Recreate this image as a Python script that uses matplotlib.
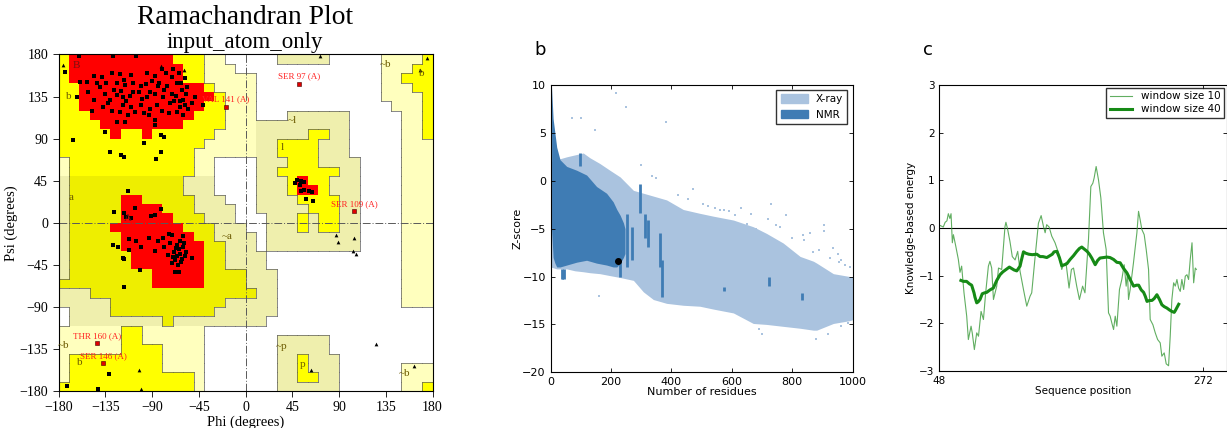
import numpy as np
import matplotlib
matplotlib.use("Agg")
import matplotlib.pyplot as plt
from matplotlib.colors import ListedColormap
from matplotlib.patches import Patch

# ------------------ panel a : Ramachandran regions (10 deg cells) ------------------
# rows from psi 180 (top) to psi -180, columns phi -180 .. 180
# R core, Y allowed, D allowed (alpha side), P generous (beta), K generous (alpha), . disallowed
region_left = [
    "YRRRRRRRRRRYYYPP..", "YRRRRRRRRRRRYYPPP.", "YRRRRRRRRRRRYYPPPP",
    "YYRRRRRRRRRRRRYPPP", "YYRRRRRRRRRRRRRYPP", "YYRRRRRRRRRRRRYYPP",
    "YYYRRRRRRRRRRYYYPP", "YYYYRRRRRRRRYYYYPP", "YYYYYRYYRYYYYYYPPP",
    "YYYYYYYYYYYYYYPPPP", "YYYYYYYYYYYYYPPPPP", "PYYYYYYYYYYYYPP...",
    "PYYYYYYYYYYYYPP...", "KDDDDDDDDDDDKKK...", "KDDDDDDDDDDDKKK...",
    "KDDDDDRRDDDDDKKK..", "KDDDDDRRRRDDDKKKK.", "KDDDDDRRRRRDDDKKK.",
    "KDDDDRRRRRRRDDDKKK", "KDDDDDRRRRRRRDDKKK", "KDDDDDRRRRRRRRDDKK",
    "KDDDDDDRRRRRRRDDKK", "KDDDDDDRRRRRRRDDKK", "KDDDDDDDDRRRRRDDDD",
    "DDDDDDDDDRRRRRDDDD", "KKKDDDDDDDDDDDDDDD", "KKKKKDDDDDDDDDDDKK",
    ".KKKKDDDDDDDDDDKKK", ".KKKKKKKKKDKKKKKKK", "PPPPPPYYPPPPPP....",
    "PPPPPPYYPPPPPP....", "PPPPPPYYYYPPPP....", "PYYYYYYYYYPPPP....",
    "PYYYYYYYYYPPPP....", "PYYYYYYYYYYYYP....", "YYYYYYYYYYYYYP....",
]
region_right = [
    "...KKKKK.....PPPPY", ".............PPPYY", "P............PPYYY",
    "P............PPPYY", "P............PPPPY", "P.............PPPY",
    "P...KKKKKK.....PPY", "PKKKKKKKKK.....PPY", "PKKKKKYYKK.....PPY",
    "PKKYYYYKKK.....PPP", "PKKYYYYKKK.....PPP", ".KKKYYYKKKK....PPP",
    ".KKYYYYYYKK....PPP", ".KKKYRYYKKK....PPP", ".KKKYRRYKKK....PPP",
    ".KKKKYYYYKK....PPP", ".KKKKKYYYKK....PPP", "..KKKYKYYKK....PPP",
    "..KKKYKYYKK....PPP", "K.KKKKKKKKK....PPP", "K.KKKKKKKKK....PPP",
    "KK.............PPP", "KK.............PPP", "KKK............PPP",
    "KKK............PPP", "DKK............PPP", "KKK............PPP",
    "KKK...............", "KK................", "..................",
    "...KKKKK..........", "...KKKKK..........", "...KKYKKK.........",
    "...KKYKKK......PPP", "...KKYYKK......PPP", "...KKKKKK......PPY",
]
region_codes = ".RYDPK"
region_colors = ["#ffffff", "#ff0000", "#ffff00", "#eeee00", "#ffffbe", "#efefad"]

res_phi = [-160, -128, -105, -174, -162, -146, -138, -129, -121, -159, -153, -143, -134, -124,
           -116, -108, -101, -87, -77, -71, -66, -61, -57, -60, -63, -55, -49, -41, -152, -146,
           -137, -129, -121, -113, -130, -124, -118, -111, -103, -95, -87, -79, -71, -85, -92,
           -101, -110, -118, -124, -116, -98, -87, -87, -74, -69, -63, -58, -76, -84, -92,
           -140, -135, -127, -120, -115, -108, -100, -96, -90, -83, -78, -73, -67, -62, -58,
           -64, -70, -80, -95, -110, -117, -132, -106, -93, -80, -66, -60, -52, -56, -148,
           -166, -135, -98, -130, -120, -117, -86, -81, -81, -78, -113,
           -127, -106, -117, -115, -110, -91, -87, -81, -128, -123, -118, -112, -112, -105,
           -101, -93, -87, -84, -79, -74, -71, -78, -73, -66, -63, -60, -69, -66, -63, -60,
           -58, -61, -68, -71, -52, -57, -102, -68, -64, -117, -117, -65, -62, -70, -75, -59,
           -64, -67, 50, 53, 56, 53, 56, 61, 64, 58, 65, 52, 48, -172, -142, -131]
res_psi = [178, 178, 178, 161, 135, 157, 156, 160, 159, 151, 151, 150, 150, 149,
           147, 149, 146, 157, 160, 156, 149, 142, 138, 131, 124, 122, 135, 126, 140, 131,
           124, 120, 118, 115, 131, 137, 135, 136, 140, 135, 138, 135, 138, 126, 122,
           126, 124, 126, 108, 108, 117, 110, 105, 117, 130, 130, 126, 146, 146, 140,
           145, 138, 142, 141, 130, 140, 132, 148, 152, 150, 142, 128, 136, 150, 155,
           160, 165, 164, 160, 158, 153, 128, 118, 115, 120, 118, 115, 128, 145, 120,
           89, 97, 85, 76, 73, 70, 68, 76, 94, 92, 34,
           12, 16, 10, 6, 5, 7, 8, 15, -24, -26, -38, -17, -29, -20,
           -26, -16, -30, -20, -16, -12, -13, -26, -22, -24, -19, -14, -31, -36, -33, -26,
           -36, -39, -40, -43, -38, -31, -51, -53, -53, -69, -39, -45, -42, -37, -35, -22,
           -28, -27, 46, 45, 44, 34, 35, 34, 33, 25, 23, 40, 43, -175, -178, -162]

gly_phi = [-176, -81, -59, 72, 168, 175, -103, -101, 87, 89, 104, 103, 106, 126, 162, 63]
gly_psi = [169, 168, 163, 178, 163, 176, -158, -178, -13, -21, -16, -30, -33, -130, -153, -158]

out_phi = [-19, 51.5, 104.4, -142.6, -136.9]
out_psi = [124, 148.4, 12.2, -129, -150.4]
out_names = ["VAL 141 (A)", "SER 97 (A)", "SER 109 (A)", "THR 160 (A)", "SER 146 (A)"]

region_labels = ["B", "b", "a", "A", "~a", "l", "~l", "~b", "b", "~b", "b", "~p", "p", "~b"]
region_lab_phi = [-163, -170, -168, -113, -18, 35, 45, 135, 170, -175, -160, 35, 55, 153]
region_lab_psi = [168, 135, 27, 5, -15, 80, 109, 169, 160, -131, -150, -132, -152, -161]

# ------------------ panel b : Z-score vs number of residues ------------------
xray_x = [0, 20, 53, 80, 108, 130, 163, 196, 230, 274, 307, 340, 384, 439, 494, 539, 605,
          671, 715, 770, 826, 870, 881, 936, 991, 1000]
xray_hi = [2.0, 2.2, 2.5, 2.7, 2.9, 2.4, 1.8, 1.1, 0.4, -1.0, -1.3, -1.6, -2.0, -3.0, -3.4,
           -3.7, -4.1, -4.8, -5.5, -6.5, -7.9, -8.4, -8.6, -9.7, -10.0, -10.0]
xray_lo = [-9.0, -9.2, -9.2, -9.4, -9.5, -9.6, -9.7, -9.9, -10.1, -10.4, -11.6, -12.4, -12.8,
           -13.0, -13.1, -13.4, -13.8, -14.9, -15.0, -15.2, -15.4, -15.6, -15.6, -14.9,
           -14.6, -14.5]
nmr_x = [3, 8, 14, 20, 31, 53, 86, 119, 152, 185, 207, 219, 230, 241, 246]
nmr_hi = [9.8, 6.5, 5.0, 3.5, 2.2, 1.5, 1.1, 0.6, -0.6, -1.3, -2.2, -3.0, -3.6, -4.4, -5.0]
nmr_lo = [-5.0, -8.0, -8.6, -9.0, -9.0, -8.8, -8.5, -8.3, -8.6, -8.8, -9.0, -9.0, -8.6, -8.0, -7.6]
streak_x = [14, 96, 230, 252, 268, 296, 313, 323, 362, 368, 574, 724, 831, 36, 44]
streak_lo = [-4.8, 1.5, -10.0, -9.0, -8.3, -3.4, -6.0, -6.9, -9.0, -12.1, -11.5, -11.0, -12.4, -10.3, -10.3]
streak_hi = [-3.7, 2.9, -6.9, -3.5, -4.8, -0.3, -3.5, -4.1, -5.5, -8.3, -11.1, -10.0, -11.7, -9.2, -9.2]
xray_out_x = [216, 249, 383, 69, 102, 147, 335, 300, 350, 470, 560, 630, 730, 680, 780, 835,
              860, 905, 905, 935, 950, 990, 760, 720, 650, 400, 280, 160, 40, 700, 690, 880,
              920, 960, 990, 985, 590, 610, 840, 870, 520, 545, 665, 745, 800, 890, 960, 975,
              420, 455, 505, 575, 925, 955]
xray_out_z = [9.2, 7.7, 6.1, 6.6, 6.6, 5.3, 0.5, 1.6, 0.3, -0.9, -3.0, -2.8, -2.4, -5.0, -3.6,
              -5.7, -5.5, -4.6, -5.2, -7.0, -7.6, -9.0, -4.8, -4.0, -4.5, -10.8, -10.3, -12.0,
              -10.3, -16.0, -15.5, -16.5, -16.0, -15.2, -13.5, -14.8, -3.2, -3.6, -6.2, -7.4,
              -2.6, -2.8, -3.5, -4.6, -6.0, -7.2, -8.3, -8.8, -1.5, -1.9, -2.4, -3.1, -8.1, -8.5]
query_x = [224]
query_z = [-8.35]

# ------------------ panel c : knowledge-based energy ------------------
seq10 = [49, 51.4, 53, 54.5, 55.7, 57, 58, 59.1, 60, 62, 64.2, 65.6, 67, 69, 71.3, 72.7, 75, 76,
         77.8, 79.8, 81.3, 83.5, 85.5, 87.4, 89.7, 91, 92.5, 94, 96.8, 98.3, 101, 103.8, 104.6,
         106, 108, 110, 112.4, 114.6, 116.6, 119.5, 122.3, 125.1, 126.5, 129.4, 132.2, 134.5,
         136.5, 137.9, 139.2, 141.3, 143.5, 146.3, 149.2, 152, 153.4, 155.6, 158.2, 160.2, 162,
         164.7, 167, 169.7, 171.7, 174.7, 176.7, 178.4, 179.5, 181.2, 183.2, 185.2, 187.4,
         189.7, 191.7, 193.1, 194.5, 196, 197.4, 198.8, 201, 203, 205, 206.7, 207.8, 208.7,
         210.1, 212.9, 215.8, 217.2, 218.6, 220, 222, 223.7, 225.7, 227.1, 229.4, 231.4, 233.4,
         235.6, 237, 239, 240.7, 242.7, 244.1, 245.5, 247, 248.4, 249.8, 251.2, 252.6, 254,
         255.5, 256.9, 258.3, 259.7, 261.1, 262.6, 264, 265.4, 266.3]
energy10 = [0.05, 0.02, 0.12, 0.15, 0.3, 0.2, 0.3, -0.31, -0.14, -0.38, -0.66, -0.93, -0.8,
            -1.36, -1.85, -2.34, -2.06, -2.2, -2.55, -2.2, -2.27, -1.75, -1.92, -1.36, -0.8, -0.7,
            -0.84, -1.5, -1.22, -0.84, -0.87, 0.03, 0.12, -0.02, -0.28, -0.6, -0.67, -0.49, -0.91,
            -1.29, -1.64, -1.43, -1.36, -0.6, 0.1, 0.26, 0.03, -0.1, 0.07, 0.02, -0.17, -0.31,
            -0.52, -0.87, -0.77, -0.73, -1.26, -0.87, -0.84, -1.22, -1.5, -1.22, -1.36, -0.24,
            0.87, 0.94, 1.05, 1.29, 1.01, 0.63, -0.1, -0.45, -1.78, -1.85, -1.99, -2.13, -1.85,
            -2.06, -1.29, -1.08, -0.77, -1.22, -0.94, -1.5, -1.29, -0.73, -0.1, 0.35, 0.17, -0.03,
            -0.14, -0.45, -0.87, -1.92, -2.03, -2.2, -2.34, -2.41, -2.69, -2.62, -2.85, -2.89,
            -2.27, -1.5, -1.15, -1.22, -1.08, -1.26, -1.33, -1.08, -1.29, -1.01, -0.98, -1.08,
            -0.66, -0.31, -1.15, -0.84, -0.87]
seq40 = [66.4, 68.5, 71.2, 73.5, 75.5, 77.5, 78.3, 79.8, 81, 82.6, 84.5, 86.5, 88.3, 91, 93.9,
         96.8, 99.6, 102, 105.3, 107.5, 109.5, 111.5, 113.8, 116.6, 117.5, 119.5, 121.5, 124,
         127, 130.8, 133.6, 136, 139.3, 142, 144, 145.5, 147.9, 150, 152, 154.5, 156.3, 159.1,
         162, 164.8, 167, 169, 171.5, 173.5, 175.5, 177.5, 180.4, 182.5, 184.5, 187.5, 190.3,
         193, 196, 198.8, 201.6, 204.5, 207.3, 209.5, 211.5, 213, 215.5, 217.3, 219.5, 221.5,
         222.9, 224.4, 226.5, 228.6, 230.5, 232.8, 235, 237, 239, 241.3, 243.5, 245.5, 247.5,
         248.5, 250, 251.3]
energy40 = [-1.1, -1.12, -1.12, -1.17, -1.2, -1.36, -1.45, -1.57, -1.55, -1.5, -1.38, -1.36,
            -1.35, -1.3, -1.26, -1.1, -0.98, -0.92, -0.86, -0.82, -0.85, -0.88, -0.9, -0.8, -0.7,
            -0.5, -0.53, -0.55, -0.56, -0.55, -0.6, -0.6, -0.62, -0.58, -0.55, -0.5, -0.49,
            -0.62, -0.79, -0.77, -0.75, -0.66, -0.58, -0.49, -0.43, -0.4, -0.45, -0.49, -0.55,
            -0.63, -0.77, -0.68, -0.63, -0.62, -0.61, -0.62, -0.66, -0.72, -0.73, -0.85, -0.94,
            -1.05, -1.15, -1.22, -1.2, -1.2, -1.3, -1.35, -1.43, -1.54, -1.52, -1.52, -1.48,
            -1.4, -1.5, -1.61, -1.65, -1.68, -1.72, -1.75, -1.77, -1.73, -1.66, -1.6]

# =====================================================================
fig = plt.figure(figsize=(12.27, 4.28), dpi=100)
serif = "Liberation Serif"

# ---------- a ----------
ax = fig.add_axes([0.0477, 0.0864, 0.3048, 0.7863])
grid = np.array([[region_codes.index(c) for c in (l + r)]
                 for l, r in zip(region_left, region_right)])
phi_e = np.arange(-180, 181, 10)
psi_e = np.arange(180, -181, -10)
ax.pcolormesh(phi_e, psi_e, grid, cmap=ListedColormap(region_colors),
              vmin=-0.5, vmax=5.5, shading="flat")

# thin boundary lines between generous / allowed / disallowed zones
group = {0: 0, 1: 1, 2: 1, 3: 1, 4: 2, 5: 2}
for i in range(36):
    for j in range(36):
        g = group[grid[i, j]]
        if j < 35 and g != group[grid[i, j + 1]]:
            ax.plot([phi_e[j + 1]] * 2, [psi_e[i], psi_e[i + 1]], color="0.35", lw=0.5)
        if i < 35 and g != group[grid[i + 1, j]]:
            ax.plot([phi_e[j], phi_e[j + 1]], [psi_e[i + 1]] * 2, color="0.35", lw=0.5)

ax.axhline(0, color="0.35", lw=0.7, ls=(0, (8, 2, 1, 2)))
ax.axvline(0, color="0.35", lw=0.7, ls=(0, (8, 2, 1, 2)))

ax.plot(res_phi, res_psi, "s", color="black", ms=2.9, mew=0)
ax.plot(gly_phi, gly_psi, "^", color="black", ms=2.7, mew=0)
ax.plot(out_phi, out_psi, "s", color="#e00000", mec="#400000", ms=2.9, mew=0.4)
for p, s, n in zip(out_phi, out_psi, out_names):
    ax.annotate(n, (p, s), xytext=(0, 2.5), textcoords="offset points", ha="center",
                va="bottom", color="#ff2020", fontsize=6.5, family=serif)
for t, p, s in zip(region_labels, region_lab_phi, region_lab_psi):
    ax.text(p, s, t, ha="center", va="center", fontsize=8, family=serif,
            color="#6b5a00" if t not in ("A", "B") else "#7a1010")

ax.set_xlim(-180, 180)
ax.set_ylim(-180, 180)
ticks = np.arange(-180, 181, 45)
ax.set_xticks(ticks)
ax.set_yticks(ticks)
ax.tick_params(labelsize=10, length=4, width=0.6, direction="out")
for lab in ax.get_xticklabels() + ax.get_yticklabels():
    lab.set_family(serif)
ax.set_xlabel("Phi (degrees)", family=serif, fontsize=10.5, labelpad=1)
ax.set_ylabel("Psi (degrees)", family=serif, fontsize=10.5, labelpad=1)
for sp in ax.spines.values():
    sp.set_linewidth(0.8)
fig.text(0.1997, 0.958, "Ramachandran Plot", ha="center", va="center", family=serif,
         fontsize=19.8)
fig.text(0.1997, 0.900, "input_atom_only", ha="center", va="center", family=serif,
         fontsize=16.5)

# ---------- b ----------
xray_col = "#aac3df"
nmr_col = "#3f7cb4"
bx = fig.add_axes([0.4488, 0.1301, 0.2461, 0.6713])
bx.fill_between(xray_x, xray_lo, xray_hi, color=xray_col, lw=0)
bx.plot(xray_out_x, xray_out_z, "s", color=xray_col, ms=1.8, mew=0)
bx.fill_between(nmr_x, nmr_lo, nmr_hi, color=nmr_col, lw=0)
bx.vlines(streak_x, streak_lo, streak_hi, color=nmr_col, lw=2)
bx.plot(query_x, query_z, "o", color="black", ms=4)
bx.set_xlim(0, 1000)
bx.set_ylim(-20, 10)
bx.set_xticks(range(0, 1001, 200))
bx.set_yticks(range(-20, 11, 5))
bx.tick_params(direction="in", top=True, right=True, labelsize=8, length=3, width=0.6)
bx.set_xlabel("Number of residues", fontsize=8, labelpad=0)
bx.set_ylabel("Z-score", fontsize=8, labelpad=0)
bx.legend(handles=[Patch(color=xray_col, label="X-ray"), Patch(color=nmr_col, label="NMR")],
          loc="upper right", fontsize=7.5, frameon=True, fancybox=False, edgecolor="black",
          borderaxespad=0.5, handlelength=2.6, handleheight=0.9, borderpad=0.4)
fig.text(0.44, 0.883, "b", fontsize=13, ha="center", va="center")

# ---------- c ----------
cx = fig.add_axes([0.7655, 0.1332, 0.2342, 0.6682])
cx.axhline(0, color="black", lw=0.8)
cx.plot(seq10, energy10, color="#3a9a3a", lw=0.8, alpha=0.8, label="window size 10")
cx.plot(seq40, energy40, color="#168a16", lw=2.2, label="window size 40")
cx.set_xlim(48, 292)
cx.set_ylim(-3, 3)
cx.set_xticks([48, 272])
cx.set_yticks(range(-3, 4))
cx.tick_params(direction="in", top=True, right=True, labelsize=7.5, length=3, width=0.6)
cx.set_xlabel("Sequence position", fontsize=7.5, labelpad=0)
cx.set_ylabel("Knowledge-based energy", fontsize=7.5, labelpad=2)
cx.legend(loc="upper right", fontsize=7.5, frameon=True, fancybox=False, edgecolor="black",
          borderaxespad=0.3, handlelength=2.2, borderpad=0.3, labelspacing=0.3)
fig.text(0.756, 0.883, "c", fontsize=13, ha="center", va="center")

fig.savefig("out.png", dpi=100)
